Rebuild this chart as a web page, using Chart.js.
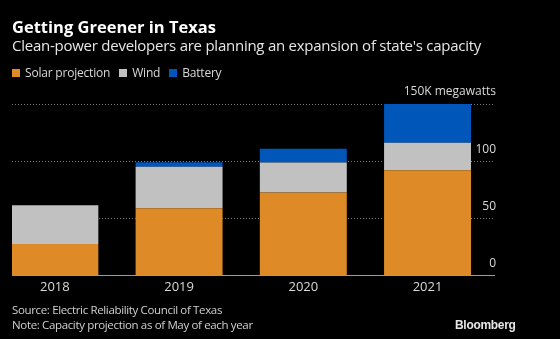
<!DOCTYPE html>
<html>
<head>
<meta charset="utf-8">
<script src="https://cdn.jsdelivr.net/npm/chart.js@4"></script>
<style>
  html, body { margin: 0; padding: 0; background: #000; }
  body { width: 560px; height: 339px; position: relative; overflow: hidden; font-family: "Open Sans", "DejaVu Sans", sans-serif; color: #e6e6e6; }
  #chartWrap { position: absolute; left: 0; top: 0; width: 560px; height: 339px; }
  .title { position: absolute; left: 12px; top: 15px; font-size: 16.5px; font-weight: bold; color: #fff; }
  .subtitle { position: absolute; left: 12px; top: 35px; font-size: 15px; color: #e6e6e6; letter-spacing: -0.25px; }
  #legend { position: absolute; left: 12px; top: 64px; font-size: 12px; color: #d9d9d9; display: flex; letter-spacing: -0.2px; }
  #legend span.item { display: flex; align-items: center; margin-right: 9px; }
  #legend span.box { width: 8px; height: 8px; margin-right: 5px; display: inline-block; }
  .source { position: absolute; left: 12px; top: 302px; font-size: 11.5px; color: #d0d0d0; line-height: 15px; letter-spacing: -0.35px; }
  .brand { position: absolute; left: 455px; top: 318px; font-size: 12px; font-weight: bold; color: #e6e6e6; font-family: "Liberation Sans", Arial, sans-serif; letter-spacing: -0.3px; }
</style>
</head>
<body>
<div id="chartWrap"><canvas id="chart" width="560" height="339"></canvas></div>
<div class="title">Getting Greener in Texas</div>
<div class="subtitle">Clean-power developers are planning an expansion of state's capacity</div>
<div id="legend"></div>
<div class="source">Source: Electric Reliability Council of Texas<br>Note: Capacity projection as of May of each year</div>
<div class="brand">Bloomberg</div>
<script>
// Data (thousand megawatts)
const years = [2018, 2019, 2020, 2021];
const solar = [27.5, 58.8, 72.5, 92];
const wind = [34, 36.3, 26.4, 24];
const battery = [0, 4, 12, 34];
const yTicks = [0, 50, 100, 150];

const seriesNames = ['Solar projection', 'Wind', 'Battery'];
const seriesColors = ['#de8b27', '#c1c1c1', '#0056b9'];

// Build HTML legend
const legend = document.getElementById('legend');
seriesNames.forEach((name, i) => {
    const item = document.createElement('span');
    item.className = 'item';
    item.innerHTML = '<span class="box" style="background:' + seriesColors[i] + '"></span>' + name;
    legend.appendChild(item);
});

const ctx = document.getElementById('chart').getContext('2d');
new Chart(ctx, {
    type: 'bar',
    data: {
        labels: years.map(String),
        datasets: [solar, wind, battery].map((values, i) => ({
            label: seriesNames[i],
            data: values,
            backgroundColor: seriesColors[i],
            borderWidth: 0,
            categoryPercentage: 1,
            barPercentage: 0.7
        }))
    },
    options: {
        responsive: false,
        animation: false,
        layout: { padding: { left: 12, right: 62, top: 104, bottom: 40 } },
        plugins: {
            legend: { display: false },
            tooltip: { enabled: false }
        },
        scales: {
            x: {
                type: 'linear',
                stacked: true,
                offset: false,
                min: 2017.655,
                max: 2021.535,
                afterBuildTicks: scale => { scale.ticks = years.map(v => ({ value: v })); },
                grid: { display: false, drawTicks: false },
                border: { display: true, color: '#9a9a9a', width: 1 },
                ticks: {
                    color: '#d9d9d9',
                    padding: 4,
                    font: { family: '"Open Sans", sans-serif', size: 13 },
                    callback: v => String(v)
                }
            },
            y: {
                position: 'right',
                stacked: true,
                min: 0,
                max: 150,
                afterBuildTicks: scale => { scale.ticks = yTicks.map(v => ({ value: v })); },
                grid: {
                    color: ctx => ctx.tick && ctx.tick.value === 0 ? 'rgba(0,0,0,0)' : '#7a7a7a',
                    drawTicks: false
                },
                border: { display: false, dash: [1, 2] },
                ticks: {
                    mirror: true,
                    padding: 2,
                    labelOffset: -12,
                    color: '#d9d9d9',
                    font: { family: '"Open Sans", sans-serif', size: 12 },
                    callback: v => v === 150 ? '150K megawatts' : String(v)
                }
            }
        }
    }
});
</script>
</body>
</html>
